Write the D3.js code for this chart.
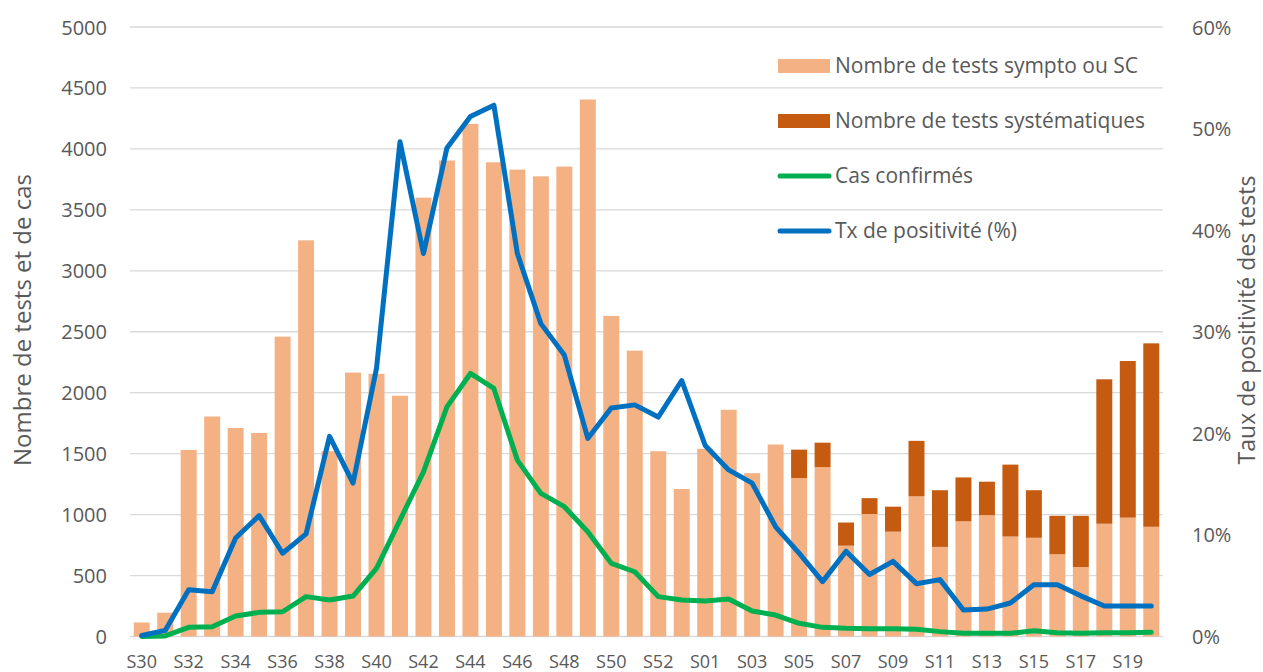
<!DOCTYPE html>
<html>
<head>
<meta charset="utf-8">
<style>
  body { margin: 0; background: #fff; }
  text { font-family: "Open Sans", sans-serif; fill: #595959; }
</style>
</head>
<body>
<script src="https://d3js.org/d3.v7.min.js"></script>
<script>
// semaines S30 (2020) -> S20 (2021)
var weeks = ["S30","S31","S32","S33","S34","S35","S36","S37","S38","S39","S40","S41",
             "S42","S43","S44","S45","S46","S47","S48","S49","S50","S51","S52","S53",
             "S01","S02","S03","S04","S05","S06","S07","S08","S09","S10","S11","S12",
             "S13","S14","S15","S16","S17","S18","S19","S20"];

// Nombre de tests sympto ou SC
var testsSympto = [115,195,1530,1805,1710,1670,2460,3250,1520,2165,2155,1975,
                   3600,3905,4205,3890,3830,3775,3855,4405,2630,2345,1520,1210,
                   1540,1860,1340,1575,1300,1390,745,1005,860,1150,735,945,
                   995,820,810,675,570,925,975,900];

// Nombre de tests systématiques
var testsSyst = [0,0,0,0,0,0,0,0,0,0,0,0,
                 0,0,0,0,0,0,0,0,0,0,0,0,
                 0,0,0,0,233,200,190,130,205,455,465,360,
                 275,590,390,315,420,1185,1285,1505];

// Cas confirmés
var casConfirmes = [0,5,75,80,168,198,203,327,299,332,559,955,
                    1351,1884,2158,2035,1447,1174,1065,860,600,531,327,300,
                    291,307,209,176,108,75,67,64,64,59,40,26,
                    26,26,48,31,26,31,31,34];

// Tx de positivité (%)
var txPositivite = [0.1,0.6,4.6,4.4,9.7,11.9,8.2,10.1,19.7,15.1,26.4,48.7,
                    37.7,48.1,51.2,52.3,37.7,30.8,27.7,19.5,22.5,22.8,21.6,25.2,
                    18.8,16.4,15.1,10.8,8.2,5.4,8.4,6.1,7.4,5.2,5.6,2.6,
                    2.7,3.3,5.1,5.1,4.0,3.0,3.0,3.0];

var leftTicks = [0,500,1000,1500,2000,2500,3000,3500,4000,4500,5000];
var rightTicks = [0,10,20,30,40,50,60];

var W = 1263, H = 672;
var margin = { left: 130, right: 100, top: 27, bottom: 35.5 };
var innerW = W - margin.left - margin.right;
var innerH = H - margin.top - margin.bottom;

var svg = d3.select("body").append("svg")
    .attr("width", W)
    .attr("height", H);

var g = svg.append("g").attr("transform", "translate(" + margin.left + "," + margin.top + ")");

var x = d3.scaleBand().domain(weeks).range([0, innerW]).paddingInner(0.32).paddingOuter(0.16);
var y = d3.scaleLinear().domain([0, 5000]).range([innerH, 0]);
var y2 = d3.scaleLinear().domain([0, 60]).range([innerH, 0]);

// gridlines
g.selectAll(".grid").data(leftTicks).enter().append("line")
    .attr("x1", 0).attr("x2", innerW)
    .attr("y1", function(d) { return y(d); })
    .attr("y2", function(d) { return y(d); })
    .attr("stroke", "#d9d9d9")
    .attr("stroke-width", 1.3);

// left axis
var yAxis = g.append("g").attr("transform", "translate(-23,0)")
    .call(d3.axisLeft(y).tickValues(leftTicks).tickSize(0).tickPadding(0).tickFormat(d3.format("d")));
yAxis.select(".domain").remove();
yAxis.selectAll("text").style("font-size", "20px").attr("dy", "0.35em");

// right axis
var yAxis2 = g.append("g").attr("transform", "translate(" + (innerW + 29) + ",0)")
    .call(d3.axisRight(y2).tickValues(rightTicks).tickSize(0).tickPadding(0)
          .tickFormat(function(d) { return d + "%"; }));
yAxis2.select(".domain").remove();
yAxis2.selectAll("text").style("font-size", "20px").attr("dy", "0.35em");

// x axis
var xAxis = g.append("g").attr("transform", "translate(0," + (innerH + 31) + ")")
    .call(d3.axisBottom(x).tickValues(weeks.filter(function(d, i) { return i % 2 === 0; }))
          .tickSize(0).tickPadding(0));
xAxis.select(".domain").remove();
xAxis.selectAll("text").style("font-size", "18px").attr("dy", "0em");

// stacked bars
var idx = d3.range(weeks.length);

g.selectAll(".bar1").data(idx).enter().append("rect")
    .attr("x", function(i) { return x(weeks[i]); })
    .attr("width", x.bandwidth())
    .attr("y", function(i) { return y(testsSympto[i]); })
    .attr("height", function(i) { return y(0) - y(testsSympto[i]); })
    .attr("fill", "#f4b183");

g.selectAll(".bar2").data(idx.filter(function(i) { return testsSyst[i] > 0; })).enter().append("rect")
    .attr("x", function(i) { return x(weeks[i]); })
    .attr("width", x.bandwidth())
    .attr("y", function(i) { return y(testsSympto[i] + testsSyst[i]); })
    .attr("height", function(i) { return y(testsSympto[i]) - y(testsSympto[i] + testsSyst[i]); })
    .attr("fill", "#c55a11");

// lines
var cx = function(i) { return x(weeks[i]) + x.bandwidth() / 2; };

var lineCas = d3.line()
    .x(function(d, i) { return cx(i); })
    .y(function(d) { return y(d); });

var lineTx = d3.line()
    .x(function(d, i) { return cx(i); })
    .y(function(d) { return y2(d); });

g.append("path").datum(casConfirmes)
    .attr("d", lineCas)
    .attr("fill", "none")
    .attr("stroke", "#00b050")
    .attr("stroke-width", 5)
    .attr("stroke-linejoin", "round")
    .attr("stroke-linecap", "round");

g.append("path").datum(txPositivite)
    .attr("d", lineTx)
    .attr("fill", "none")
    .attr("stroke", "#0070c0")
    .attr("stroke-width", 5)
    .attr("stroke-linejoin", "round")
    .attr("stroke-linecap", "round");

// axis titles
svg.append("text")
    .attr("transform", "translate(31,320) rotate(-90)")
    .attr("text-anchor", "middle")
    .style("font-size", "24px")
    .text("Nombre de tests et de cas");

svg.append("text")
    .attr("transform", "translate(1255,320) rotate(-90)")
    .attr("text-anchor", "middle")
    .style("font-size", "23px")
    .text("Taux de positivité des tests");

// legend
var legendItems = [
  { label: "Nombre de tests sympto ou SC", color: "#f4b183", type: "rect" },
  { label: "Nombre de tests systématiques", color: "#c55a11", type: "rect" },
  { label: "Cas confirmés", color: "#00b050", type: "line" },
  { label: "Tx de positivité (%)", color: "#0070c0", type: "line" }
];

var legend = svg.append("g").attr("transform", "translate(778,66)");
legendItems.forEach(function(d, i) {
  var row = legend.append("g").attr("transform", "translate(0," + (i * 55) + ")");
  if (d.type === "rect") {
    row.append("rect").attr("x", 0).attr("y", -7).attr("width", 52).attr("height", 14).attr("fill", d.color);
  } else {
    row.append("line").attr("x1", 2).attr("x2", 51).attr("y1", 0).attr("y2", 0)
       .attr("stroke", d.color).attr("stroke-width", 5).attr("stroke-linecap", "round");
  }
  row.append("text").attr("x", 57).attr("y", 0).attr("dy", "0.35em")
     .style("font-size", "21px").text(d.label);
});
</script>
</body>
</html>
